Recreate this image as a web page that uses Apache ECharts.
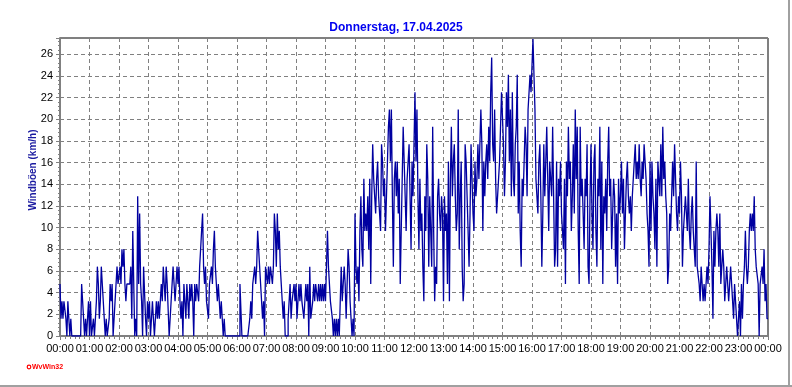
<!DOCTYPE html>
<html>
<head>
<meta charset="utf-8">
<script src="https://cdn.jsdelivr.net/npm/echarts@6/dist/echarts.min.js"></script>
<style>
html,body{margin:0;padding:0;background:#fff;}
#c{width:792px;height:387px;}
</style>
</head>
<body>
<div id="c"></div>
<script>
// Wind gusts (km/h), one value every 2 minutes
const stepMinutes = 2;
const gust00to06 = [
  4.8,1.6,3.2,1.6,3.2,3.2,1.6,0,3.2,1.6, 0,1.6,0,0,0,0,0,0,0,0, 0,0,4.8,3.2,1.6,0,1.6,0,0,3.2,
  0,3.2,0,0,1.6,0,0,3.2,6.4,4.8, 1.6,3.2,6.4,4.8,3.2,1.6,0,1.6,0,0, 1.6,4.8,3.2,4.8,0,0,3.2,4.8,6.4,4.8,
  4.8,6.4,4.8,8.0,6.4,8.0,4.8,3.2,4.8,4.8, 4.8,4.8,6.4,1.6,9.7,4.8,0,1.6,0,12.9, 4.8,11.3,4.8,3.2,0,6.4,6.4,1.6,0,3.2,
  1.6,3.2,0,1.6,3.2,1.6,0,1.6,3.2,1.6, 3.2,1.6,3.2,4.8,3.2,6.4,4.8,3.2,6.4,4.8, 4.8,0,1.6,3.2,4.8,6.4,4.8,3.2,4.8,6.4,
  4.8,6.4,3.2,1.6,3.2,0,4.8,3.2,1.6,4.8, 3.2,1.6,4.8,3.2,4.8,3.2,0,4.8,3.2,4.8, 4.8,3.2,6.4,8.0,9.7,11.3,6.4,4.8,6.4,3.2,
  3.2,1.6,4.8,4.8,6.4,4.8,8.0,9.7,6.4,4.8, 3.2,4.8,3.2,1.6,3.2,1.6,0,1.6,0,0, 0,0,0,0,0,0,0,0,0,0
];
const gust06to12 = [
  0,0,0,4.8,4.8,0,0,0,0,0, 0,0,0,1.6,3.2,1.6,4.8,4.8,6.4,4.8, 6.4,9.7,8.0,6.4,4.8,3.2,1.6,3.2,0,6.4,
  6.4,4.8,6.4,4.8,6.4,6.4,4.8,6.4,11.3,9.7, 6.4,11.3,8.0,9.7,6.4,4.8,3.2,1.6,3.2,0, 0,0,1.6,3.2,4.8,1.6,3.2,3.2,4.8,3.2,
  4.8,1.6,3.2,4.8,3.2,4.8,3.2,3.2,1.6,3.2, 4.8,3.2,4.8,0,6.4,1.6,1.6,3.2,4.8,3.2, 4.8,4.8,3.2,4.8,3.2,4.8,3.2,4.8,3.2,4.8,
  3.2,3.2,9.7,6.4,4.8,3.2,3.2,1.6,0,1.6, 0,1.6,0,1.6,0,0,6.4,3.2,4.8,6.4, 4.8,1.6,4.8,8.0,6.4,3.2,1.6,0,1.6,0,
  11.3,6.4,4.8,6.4,3.2,9.7,12.9,8.0,6.4,14.5, 9.7,11.3,9.7,12.9,8.0,14.5,4.8,12.9,17.7,14.5, 12.9,11.3,14.5,16.1,12.9,11.3,9.7,17.7,16.1,12.9,
  14.5,9.7,12.9,16.1,19.3,20.9,16.1,20.9,12.9,6.4, 14.5,16.1,12.9,16.1,11.3,14.5,4.8,9.7,14.5,19.3, 16.1,12.9,9.7,14.5,16.1,17.7,12.9,8.0,16.1,12.9
];
const gust12to18 = [
  17.7,22.5,16.1,20.9,12.9,8.0,14.5,9.7,11.3,6.4, 3.2,12.9,9.7,17.7,14.5,6.4,12.9,9.7,6.4,19.3, 9.7,3.2,6.4,4.8,12.9,14.5,11.3,9.7,12.9,11.3,
  3.2,12.9,9.7,11.3,4.8,16.1,3.2,14.5,19.3,12.9, 16.1,17.7,12.9,9.7,11.3,20.9,8.0,12.9,16.1,6.4, 3.2,4.8,17.7,16.1,12.9,9.7,6.4,11.3,17.7,14.5,
  11.3,9.7,16.1,12.9,14.5,17.7,14.5,17.7,20.9,17.7, 9.7,16.1,12.9,16.1,17.7,14.5,19.3,16.1,22.5,25.7, 17.7,16.1,20.9,14.5,11.3,12.9,14.5,16.1,19.3,22.5,
  22.5,17.7,12.9,16.1,22.5,19.3,24.1,16.1,20.9,12.9, 22.5,14.5,12.9,17.7,19.3,24.1,11.3,16.1,9.7,6.4, 14.5,12.9,16.1,19.3,17.7,12.9,20.9,22.5,24.1,22.5,
  22.5,27.4,24.1,20.9,14.5,12.9,11.3,16.1,17.7,12.9, 6.4,11.3,17.7,12.9,16.1,19.3,14.5,9.7,16.1,14.5, 12.9,19.3,19.3,6.4,8.0,16.1,6.4,14.5,12.9,16.1,
  11.3,9.7,8.0,14.5,4.8,16.1,12.9,19.3,14.5,16.1, 9.7,12.9,17.7,11.3,20.9,14.5,19.3,9.7,4.8,19.3, 12.9,14.5,11.3,8.0,14.5,12.9,17.7,6.4,4.8,12.9
];
const gust18to24 = [
  17.7,11.3,8.0,16.1,17.7,9.7,6.4,14.5,12.9,19.3, 8.0,16.1,4.8,12.9,11.3,14.5,9.7,16.1,19.3,12.9, 14.5,8.0,11.3,14.5,12.9,6.4,11.3,4.8,14.5,11.3,
  12.9,16.1,11.3,14.5,8.0,11.3,14.5,16.1,12.9,11.3, 12.9,9.7,12.9,14.5,16.1,17.7,14.5,16.1,14.5,17.7, 14.5,12.9,16.1,14.5,17.7,16.1,14.5,11.3,9.7,6.4,
  16.1,9.7,16.1,12.9,11.3,8.0,14.5,6.4,16.1,14.5, 12.9,17.7,12.9,19.3,14.5,16.1,12.9,11.3,4.8,6.4, 11.3,9.7,12.9,16.1,12.9,17.7,14.5,11.3,9.7,12.9,
  11.3,16.1,12.9,6.4,9.7,11.3,12.9,11.3,9.7,14.5, 9.7,8.0,11.3,12.9,9.7,8.0,6.4,16.1,6.4,6.4, 4.8,3.2,6.4,4.8,3.2,4.8,3.2,4.8,6.4,4.8,
  8.0,12.9,9.7,6.4,1.6,9.7,6.4,9.7,11.3,9.7, 6.4,11.3,4.8,6.4,8.0,6.4,3.2,4.8,6.4,4.8, 3.2,4.8,6.4,4.8,3.2,1.6,4.8,3.2,1.6,0,
  0,3.2,0,4.8,1.6,4.8,6.4,9.7,6.4,4.8, 6.4,9.7,11.3,9.7,11.3,9.7,12.9,8.0,6.4,6.4, 4.8,0,4.8,4.8,6.4,4.8,8.0,3.2,4.8,1.6,
  1.6
];
const yTicks = [0,2,4,6,8,10,12,14,16,18,20,22,24,26];
const titleText = 'Donnerstag, 17.04.2025';
const yName = 'Windböen (km/h)';

const gust = [].concat(gust00to06, gust06to12, gust12to18, gust18to24);
const seriesData = gust.map((v, i) => [i * stepMinutes, v]);

function pad(n){ return (n < 10 ? '0' : '') + n; }

const chart = echarts.init(document.getElementById('c'), null, {renderer: 'canvas'});
const FONT = 'Liberation Sans, Arial, sans-serif';
chart.setOption({
  animation: false,
  backgroundColor: '#ffffff',
  title: {
    text: titleText,
    left: 'center',
    top: 17,
    textStyle: {fontFamily: FONT, fontSize: 12, fontWeight: 'bold', color: '#0000f0'}
  },
  grid: {left: 60, right: 24, top: 38, bottom: 51, show: true, borderColor: '#000000', borderWidth: 1},
  xAxis: {
    type: 'value', min: 0, max: 1440, interval: 60,
    axisLine: {show: true, onZero: false, lineStyle: {color: '#808080', width: 2}},
    axisTick: {show: true, length: 4, lineStyle: {color: '#808080'}},
    minorTick: {show: true, splitNumber: 6, length: 3, lineStyle: {color: '#808080'}},
    axisLabel: {
      margin: 7, fontFamily: FONT, fontSize: 11, color: '#000',
      formatter: m => pad(Math.floor(m / 60) % 24) + ':00'
    },
    splitLine: {show: true, lineStyle: {color: '#808080', type: [4, 3], width: 1}}
  },
  yAxis: {
    type: 'value', min: 0, max: 27.5, interval: 2,
    axisLine: {show: true, lineStyle: {color: '#808080', width: 2}},
    axisTick: {show: true, length: 4, lineStyle: {color: '#808080'}},
    minorTick: {show: true, splitNumber: 5, length: 2, lineStyle: {color: '#808080'}},
    axisLabel: {
      margin: 7, fontFamily: FONT, fontSize: 11, color: '#000',
      formatter: v => (yTicks.indexOf(v) >= 0 ? String(v) : '')
    },
    splitLine: {show: true, lineStyle: {color: '#808080', type: [4, 3], width: 1}}
  },
  series: [{
    type: 'line',
    data: seriesData,
    step: 'end',
    showSymbol: false,
    symbol: 'none',
    lineStyle: {color: '#0000a0', width: 1.3},
    clip: true
  }],
  graphic: [
    {type: 'text', x: 33, y: 170, rotation: Math.PI / 2,
     style: {text: yName, font: 'bold 10px ' + FONT, fill: '#1a1aa0', align: 'center', verticalAlign: 'middle'}},
    {type: 'circle', shape: {cx: 29, cy: 367, r: 1.8}, style: {fill: 'none', stroke: '#ff0000', lineWidth: 1.2}},
    {type: 'text', x: 32, y: 367,
     style: {text: 'WvWin32', font: 'bold 7px ' + FONT, fill: '#ff0000', align: 'left', verticalAlign: 'middle'}},
    {type: 'rect', shape: {x: 788, y: 0, width: 2, height: 387}, style: {fill: '#a0a0a0'}},
    {type: 'rect', shape: {x: 0, y: 385, width: 792, height: 2}, style: {fill: '#a0a0a0'}}
  ]
});
</script>
</body>
</html>
